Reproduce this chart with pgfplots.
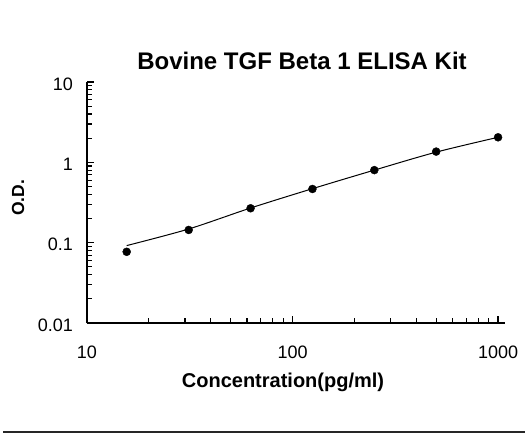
\documentclass[border=0pt]{standalone}
\usepackage{fontspec}
\setmainfont{Liberation Sans}
\usepackage{pgfplots}
\pgfplotsset{compat=1.18}
\begin{document}
\begin{tikzpicture}[x=1pt,y=1pt]
\path[use as bounding box] (0,0) rectangle (525,434);
\draw[line width=1.4pt, black!85] (3,2) -- (525,2);
\node[anchor=base, font=\fontsize{24}{26}\selectfont\bfseries] at (302,364.7) {Bovine TGF Beta 1 ELISA Kit};
\node[anchor=base, font=\fontsize{20}{22}\selectfont\bfseries] at (283,46) {Concentration(pg/ml)};
\node[rotate=90, font=\fontsize{17.5}{19}\selectfont\bfseries] at (18,236) {O.D.};
\begin{axis}[
  at={(87pt,111pt)}, anchor=south west,
  scale only axis, width=418pt, height=241pt,
  xmode=log, ymode=log,
  xmin=10, xmax=1081, ymin=0.01, ymax=10,
  axis x line*=bottom, axis y line*=left,
  axis line style={line width=1.8pt},
  every tick/.style={black, line width=1.2pt},
  major tick length=7pt, minor tick length=5pt,
  tick align=inside,
  xtick={10,100,1000}, xticklabels={10,100,1000},
  ytick={0.01,0.1,1,10}, yticklabels={0.01,0.1,1,10},
  minor xtick={20,30,40,50,60,70,80,90,200,300,400,500,600,700,800,900},
  minor ytick={0.02,0.03,0.04,0.05,0.06,0.07,0.08,0.09,0.2,0.3,0.4,0.5,0.6,0.7,0.8,0.9,2,3,4,5,6,7,8,9},
  /pgf/number format/assume math mode=true,
  tick label style={font=\fontsize{18}{20}\selectfont, inner sep=0pt},
  xticklabel style={anchor=base, yshift=-35pt},
  yticklabel style={anchor=east, xshift=-14pt, yshift=-2pt},
  clip=false,
]
\addplot[black, line width=1pt, smooth, no markers] coordinates {
  (15.6,0.092) (31.25,0.148) (62.5,0.27) (125,0.47) (250,0.80) (500,1.34) (1000,2.05)
};
\addplot[only marks, mark=*, mark size=4pt, black] coordinates {
  (15.6,0.077) (31.25,0.144) (62.5,0.268) (125,0.466) (250,0.80) (500,1.36) (1000,2.05)
};
\end{axis}
\end{tikzpicture}
\end{document}
